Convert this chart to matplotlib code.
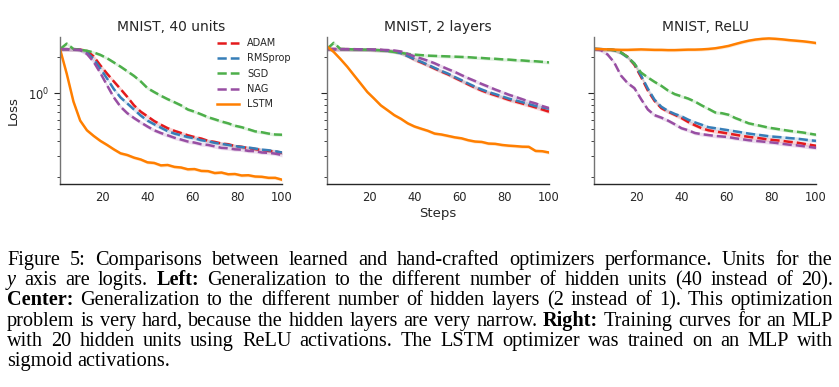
import numpy as np
import matplotlib.pyplot as plt
from matplotlib.ticker import FixedLocator, LogLocator, NullFormatter

steps = np.arange(1, 101, 3)

names = ["ADAM", "RMSprop", "SGD", "NAG", "LSTM"]
colors = ["#e41a1c", "#377eb8", "#4daf4a", "#984ea3", "#ff7f00"]
styles = ["--", "--", "--", "--", "-"]
titles = ["MNIST, 40 units", "MNIST, 2 layers", "MNIST, ReLU"]

# left panel: 40 hidden units
units_adam = [2.32, 2.32, 2.31, 2.30, 2.24, 2.02, 1.70, 1.45, 1.25, 1.08, 0.93, 0.79,
              0.70, 0.64, 0.585, 0.545, 0.51, 0.485, 0.465, 0.445, 0.43, 0.418, 0.40, 0.392,
              0.38, 0.375, 0.362, 0.357, 0.348, 0.342, 0.335, 0.33, 0.326, 0.318]
units_rms = [2.32, 2.32, 2.31, 2.29, 2.18, 1.92, 1.60, 1.32, 1.08, 0.92, 0.82, 0.73,
             0.65, 0.59, 0.55, 0.515, 0.482, 0.46, 0.445, 0.43, 0.42, 0.405, 0.397, 0.385,
             0.378, 0.37, 0.362, 0.355, 0.352, 0.345, 0.338, 0.334, 0.328, 0.32]
units_sgd = [2.32, 2.58, 2.33, 2.30, 2.25, 2.18, 2.08, 1.95, 1.80, 1.66, 1.52, 1.39,
             1.25, 1.10, 1.02, 0.95, 0.89, 0.84, 0.79, 0.73, 0.70, 0.665, 0.63, 0.605,
             0.58, 0.56, 0.535, 0.52, 0.50, 0.48, 0.472, 0.46, 0.452, 0.45]
units_nag = [2.32, 2.32, 2.31, 2.28, 2.12, 1.82, 1.47, 1.16, 0.92, 0.77, 0.68, 0.62,
             0.57, 0.527, 0.49, 0.465, 0.445, 0.425, 0.41, 0.395, 0.387, 0.375, 0.37, 0.36,
             0.35, 0.347, 0.34, 0.338, 0.33, 0.328, 0.32, 0.318, 0.313, 0.305]
units_lstm = [2.33, 1.45, 0.85, 0.59, 0.49, 0.44, 0.40, 0.37, 0.34, 0.315, 0.305, 0.29,
              0.28, 0.265, 0.262, 0.25, 0.252, 0.243, 0.24, 0.232, 0.233, 0.225, 0.224, 0.216,
              0.218, 0.211, 0.212, 0.206, 0.207, 0.202, 0.201, 0.197, 0.197, 0.19]

# centre panel: 2 hidden layers
layers_adam = [2.32, 2.32, 2.32, 2.32, 2.31, 2.31, 2.30, 2.29, 2.28, 2.26, 2.23, 2.16,
               2.04, 1.90, 1.80, 1.70, 1.60, 1.51, 1.43, 1.34, 1.26, 1.18, 1.11, 1.05,
               1.00, 0.96, 0.92, 0.88, 0.85, 0.82, 0.79, 0.76, 0.73, 0.70]
layers_rms = [2.32, 2.32, 2.32, 2.32, 2.31, 2.31, 2.30, 2.29, 2.28, 2.26, 2.22, 2.15,
              2.03, 1.92, 1.82, 1.72, 1.62, 1.53, 1.45, 1.36, 1.28, 1.20, 1.13, 1.07,
              1.02, 0.98, 0.94, 0.90, 0.87, 0.84, 0.81, 0.78, 0.76, 0.74]
layers_sgd = [2.33, 2.62, 2.33, 2.32, 2.31, 2.30, 2.30, 2.29, 2.27, 2.24, 2.20, 2.16,
              2.12, 2.09, 2.07, 2.05, 2.04, 2.03, 2.02, 2.01, 2.00, 1.99, 1.97, 1.96,
              1.94, 1.93, 1.91, 1.90, 1.88, 1.87, 1.85, 1.84, 1.82, 1.80]
layers_nag = [2.33, 2.33, 2.32, 2.32, 2.32, 2.31, 2.31, 2.30, 2.29, 2.28, 2.26, 2.22,
              2.12, 2.02, 1.94, 1.86, 1.77, 1.67, 1.58, 1.50, 1.41, 1.33, 1.26, 1.19,
              1.13, 1.07, 1.02, 0.97, 0.93, 0.89, 0.85, 0.82, 0.78, 0.75]
layers_lstm = [2.45, 2.20, 1.92, 1.66, 1.41, 1.20, 1.02, 0.90, 0.79, 0.72, 0.655, 0.61,
               0.56, 0.527, 0.505, 0.485, 0.46, 0.452, 0.44, 0.428, 0.42, 0.405, 0.395, 0.392,
               0.38, 0.378, 0.37, 0.365, 0.362, 0.358, 0.357, 0.33, 0.328, 0.32]

# right panel: ReLU activations
relu_adam = [2.33, 2.32, 2.31, 2.28, 2.18, 2.00, 1.72, 1.36, 1.05, 0.86, 0.75, 0.70,
             0.66, 0.62, 0.575, 0.54, 0.51, 0.49, 0.48, 0.47, 0.46, 0.45, 0.44, 0.432,
             0.425, 0.418, 0.41, 0.405, 0.40, 0.393, 0.388, 0.38, 0.372, 0.364]
relu_rms = [2.33, 2.32, 2.31, 2.28, 2.17, 1.98, 1.76, 1.40, 1.09, 0.88, 0.77, 0.71,
            0.67, 0.64, 0.60, 0.57, 0.545, 0.52, 0.51, 0.50, 0.49, 0.48, 0.47, 0.46,
            0.452, 0.445, 0.437, 0.432, 0.428, 0.422, 0.418, 0.412, 0.405, 0.40]
relu_sgd = [2.33, 2.32, 2.31, 2.28, 2.18, 2.00, 1.76, 1.48, 1.35, 1.24, 1.15, 1.05,
            0.98, 0.94, 0.90, 0.85, 0.79, 0.74, 0.69, 0.68, 0.66, 0.62, 0.59, 0.56,
            0.545, 0.53, 0.515, 0.505, 0.495, 0.485, 0.478, 0.47, 0.46, 0.45]
relu_nag = [2.33, 2.28, 2.10, 1.80, 1.40, 1.21, 1.10, 0.89, 0.73, 0.655, 0.625, 0.59,
            0.55, 0.51, 0.49, 0.465, 0.455, 0.447, 0.44, 0.435, 0.43, 0.42, 0.413, 0.405,
            0.40, 0.395, 0.39, 0.385, 0.378, 0.372, 0.368, 0.362, 0.356, 0.35]
relu_lstm = [2.33, 2.32, 2.31, 2.30, 2.29, 2.29, 2.30, 2.31, 2.30, 2.29, 2.29, 2.28,
             2.28, 2.29, 2.30, 2.30, 2.31, 2.33, 2.36, 2.41, 2.47, 2.56, 2.65, 2.73,
             2.79, 2.83, 2.85, 2.83, 2.80, 2.76, 2.73, 2.70, 2.66, 2.61]

panels = [
    [units_adam, units_rms, units_sgd, units_nag, units_lstm],
    [layers_adam, layers_rms, layers_sgd, layers_nag, layers_lstm],
    [relu_adam, relu_rms, relu_sgd, relu_nag, relu_lstm],
]
# relative half-width of the shaded bands
spread = [0.035, 0.035, 0.03, 0.035, 0.03]

plt.rcParams['font.family'] = 'DejaVu Sans'
plt.rcParams['text.color'] = '#262626'
plt.rcParams['axes.labelcolor'] = '#262626'
plt.rcParams['xtick.color'] = '#262626'
plt.rcParams['ytick.color'] = '#262626'

W, H = 839, 387
fig = plt.figure(figsize=(W / 100, H / 100), dpi=100)

lefts = [60, 327, 594]
axes = []
for k in range(3):
    ax = fig.add_axes([lefts[k] / W, 1 - 184 / H, 222 / W, 147 / H])
    axes.append(ax)
    for i in range(5):
        y = np.array(panels[k][i])
        ax.fill_between(steps, y * (1 - spread[i]), y * (1 + spread[i]),
                        color=colors[i], alpha=0.18, lw=0)
        ax.plot(steps, y, styles[i], color=colors[i], lw=1.8, label=names[i])
    ax.set_yscale('log')
    ax.set_ylim(0.175, 2.93)
    ax.set_xlim(1, 100)
    ax.set_xticks([20, 40, 60, 80, 100])
    ax.yaxis.set_major_locator(FixedLocator([1.0]))
    ax.yaxis.set_minor_locator(LogLocator(subs=np.arange(2, 10)))
    ax.yaxis.set_minor_formatter(NullFormatter())
    ax.tick_params(axis='x', length=0, labelsize=8.3, pad=5)
    ax.tick_params(axis='y', which='major', length=4.5, width=0.8, labelsize=8.3)
    ax.tick_params(axis='y', which='minor', length=2.5, width=0.6)
    ax.spines['top'].set_visible(False)
    ax.spines['right'].set_visible(False)
    ax.spines['left'].set_color('0.45')
    ax.spines['bottom'].set_color('0.15')
    ax.spines['left'].set_linewidth(1.0)
    ax.spines['bottom'].set_linewidth(1.0)
    ax.set_title(titles[k], fontsize=10, pad=4)
    if k > 0:
        ax.tick_params(axis='y', labelleft=False)

axes[0].set_ylabel('Loss', fontsize=9.5, labelpad=6)
axes[1].set_xlabel('Steps', fontsize=9.5, labelpad=2)
axes[0].legend(loc='upper left', bbox_to_anchor=(0.69, 1.02), frameon=False,
               fontsize=7, handlelength=2.3, labelspacing=0.55, handletextpad=0.8,
               borderaxespad=0)

# caption, justified word by word
cap_lines = [
    [("Figure 5: Comparisons between learned and hand-crafted optimizers performance.  Units for the", "normal", "normal")],
    [("y", "normal", "italic"), ("axis are logits.", "normal", "normal"), ("Left:", "bold", "normal"),
     ("Generalization to the different number of hidden units (40 instead of 20).", "normal", "normal")],
    [("Center:", "bold", "normal"),
     ("Generalization to the different number of hidden layers (2 instead of 1). This optimization", "normal", "normal")],
    [("problem is very hard, because the hidden layers are very narrow.", "normal", "normal"),
     ("Right:", "bold", "normal"), ("Training curves for an MLP", "normal", "normal")],
    [("with 20 hidden units using ReLU activations. The LSTM optimizer was trained on an MLP with", "normal", "normal")],
    [("sigmoid activations.", "normal", "normal")],
]
cap_x0, cap_x1 = 7, 833
cap_base = 265
cap_step = 20.2
cap_size = 14.6

renderer = fig.canvas.get_renderer()
a1 = fig.text(0, 0, 'a a', fontsize=cap_size, family='Liberation Serif')
a2 = fig.text(0, 0, 'aa', fontsize=cap_size, family='Liberation Serif')
space_w = a1.get_window_extent(renderer).width - a2.get_window_extent(renderer).width
a1.remove()
a2.remove()

for li, line in enumerate(cap_lines):
    yb = 1 - (cap_base + li * cap_step) / H
    words = []
    for seg, weight, style in line:
        for w in seg.split():
            t = fig.text(0, yb, w, fontsize=cap_size, family='Liberation Serif',
                         weight=weight, style=style, va='baseline', ha='left', color='black')
            words.append(t)
    widths = [t.get_window_extent(renderer).width for t in words]
    if li < len(cap_lines) - 1:
        gap = (cap_x1 - cap_x0 - sum(widths)) / (len(words) - 1)
    else:
        gap = space_w
    x = cap_x0
    for t, w in zip(words, widths):
        t.set_x(x / W)
        x += w + gap

fig.savefig('out.png', dpi=100)
